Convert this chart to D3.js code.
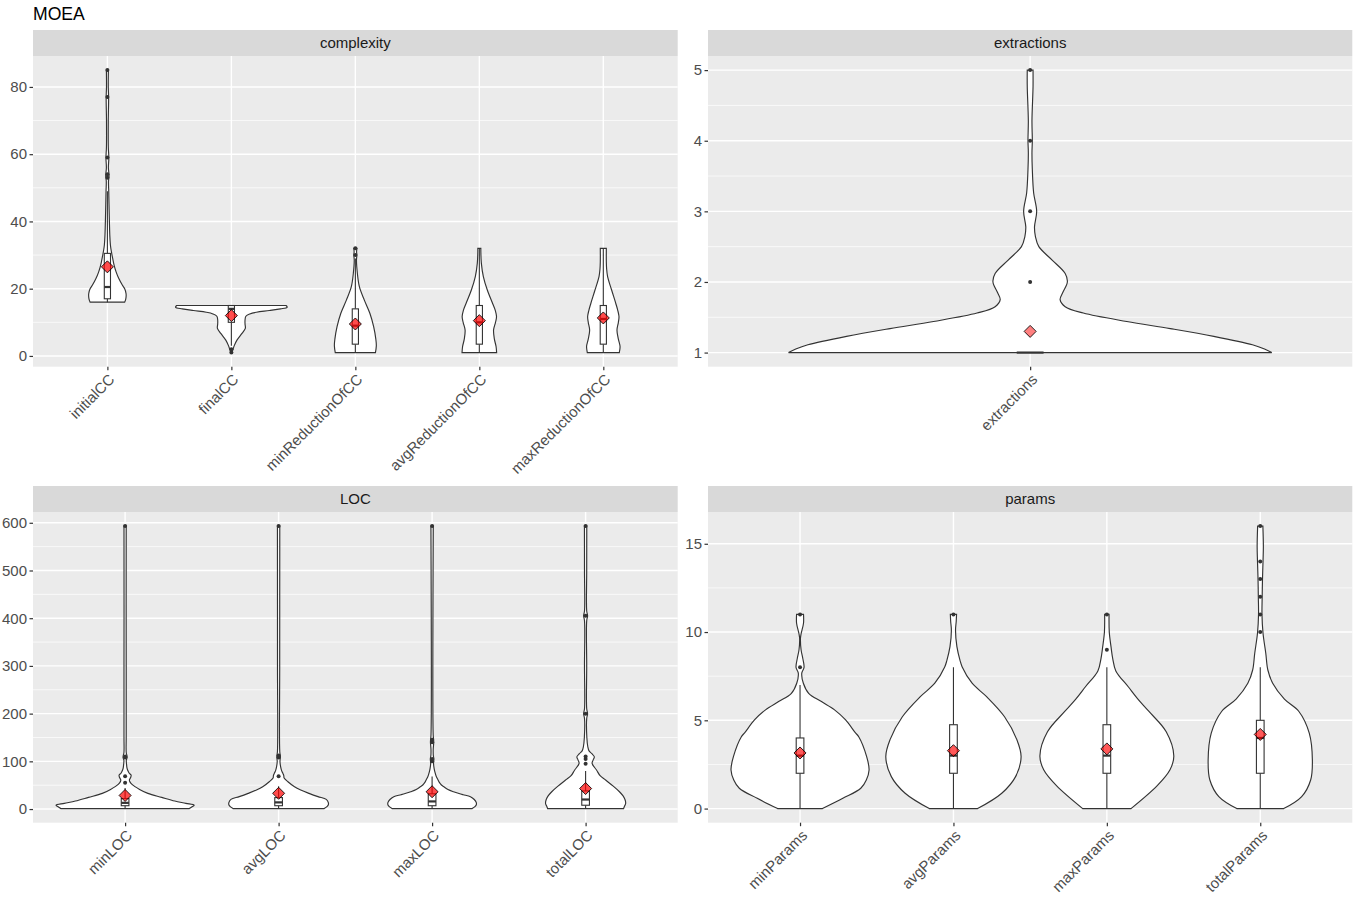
<!DOCTYPE html>
<html><head><meta charset="utf-8">
<script src="https://cdn.jsdelivr.net/npm/d3@7"></script>
<style>
body{margin:0;background:#fff}
text{font-family:"Liberation Sans", Arial, Helvetica, sans-serif}
</style>
</head><body>
<svg id="chart" width="1359" height="898"></svg>
<script>
// ---------------- DATA ----------------
const chartTitle = "MOEA";

// complexity panel
const complexityCategories = ["initialCC","finalCC","minReductionOfCC","avgReductionOfCC","maxReductionOfCC"];
const complexityTicks = [0,20,40,60,80];
// density profiles: [value, relative density]
const complexityDensity = [
  [[16,0.31],[17,0.33],[18.5,0.335],[20,0.31],[21,0.27],[23,0.205],[25,0.156],[27,0.12],[29,0.095],[31,0.072],[33,0.054],[36,0.043],[40,0.036],[45,0.029],[49,0.024],[52,0.02],[53.5,0.03],[56,0.018],[59,0.026],[62,0.017],[70,0.016],[77,0.022],[80,0.016],[85,0.018]],
  [[1,0.01],[2,0.03],[3,0.05],[4.7,0.10],[6.7,0.19],[8.2,0.25],[9.5,0.245],[10.7,0.245],[11.8,0.26],[12.5,0.33],[13,0.45],[13.5,0.68],[14,0.88],[14.5,1.0],[15,0.98]],
  [[1,0.36],[3,0.376],[5,0.367],[8.7,0.328],[12.7,0.26],[16.6,0.161],[20.6,0.072],[24.6,0.036],[28.6,0.02],[30,0.028],[31,0.022],[32,0.028]],
  [[1,0.31],[2.8,0.30],[5,0.27],[7.7,0.255],[10,0.29],[11.7,0.308],[13.5,0.287],[15.6,0.238],[19.6,0.143],[23.6,0.072],[27.6,0.036],[31,0.027],[32,0.027]],
  [[1,0.287],[2.8,0.30],[5,0.27],[7.7,0.245],[10,0.27],[11.7,0.281],[13.5,0.26],[15.6,0.224],[19.6,0.149],[23.6,0.077],[26,0.059],[28,0.054],[32,0.054]]
];
// box stats: [lower whisker, q1, median, q3, upper whisker]
const complexityBox = [[16,17,20.5,30.5,49],[3,10,14,15,15],[1,3.5,9,14,29],[1,3.5,10,15,32],[1,3.5,11,15,32]];
const complexityOutliers = [[53,54,59,77,85],[1,2],[30,32],[],[]];
const complexityMeans = [26.5,12,9.5,10.5,11.3];

// extractions panel
const extractionsCategories = ["extractions"];
const extractionsTicks = [1,2,3,4,5];
const extractionsDensity = [
  [[1,1.0],[1.05,0.97],[1.11,0.92],[1.23,0.76],[1.34,0.58],[1.44,0.40],[1.56,0.22],[1.65,0.145],[1.75,0.124],[1.85,0.135],[2.0,0.154],[2.12,0.145],[2.31,0.091],[2.5,0.036],[2.64,0.022],[2.78,0.018],[3.0,0.027],[3.26,0.0145],[3.59,0.009],[3.83,0.0075],[4.0,0.009],[4.28,0.0075],[4.77,0.012],[5.0,0.012]]
];
const extractionsBox = [[1,1,1,1,1]];
const extractionsOutliers = [[2,3,4,5]];
const extractionsMeans = [1.3];

// LOC panel
const locCategories = ["minLOC","avgLOC","maxLOC","totalLOC"];
const locTicks = [0,100,200,300,400,500,600];
const locDensity = [
  [[1,0.93],[5,0.97],[8,1.0],[12,0.88],[16.8,0.72],[24.5,0.53],[32.9,0.33],[41.2,0.21],[51.7,0.10],[57,0.07],[61,0.062],[66,0.08],[71,0.087],[75,0.06],[79,0.045],[85,0.029],[95,0.02],[103,0.018],[108,0.03],[112,0.027],[118,0.017],[150,0.016],[300,0.016],[590,0.016],[593,0.017]],
  [[1,0.66],[5,0.70],[9,0.72],[13.3,0.72],[20.3,0.69],[26,0.57],[32.9,0.44],[40,0.32],[46.8,0.23],[57.3,0.135],[65,0.08],[70,0.075],[74.8,0.062],[80,0.045],[88.8,0.029],[100,0.02],[110,0.026],[120,0.017],[300,0.016],[593,0.017]],
  [[1,0.58],[5,0.62],[9,0.64],[13.3,0.64],[20,0.61],[25.9,0.555],[30,0.45],[32.5,0.39],[36.3,0.31],[41,0.23],[46.8,0.17],[50.4,0.135],[57,0.1],[60,0.09],[67.8,0.062],[78,0.04],[85.4,0.029],[95,0.021],[100,0.023],[105,0.026],[112,0.018],[125,0.016],[140,0.024],[145,0.022],[155,0.016],[593,0.017]],
  [[1,0.55],[5,0.56],[11.7,0.58],[20,0.57],[28,0.54],[36.3,0.49],[48,0.40],[60.8,0.29],[70,0.21],[81.8,0.158],[95.8,0.094],[103,0.11],[109.6,0.126],[116,0.09],[122,0.05],[130.6,0.032],[150,0.018],[190,0.016],[200,0.029],[210,0.016],[300,0.016],[395,0.016],[405,0.029],[415,0.016],[500,0.016],[593,0.017]]
];
const locBox = [[1,7,13,22,44],[1,7,14,24,48],[1,7,16,32,68],[1,8,20,38,80]];
const locOutliers = [[55,69,108,110,593],[69,108,112,593],[100,105,140,145,593],[95,105,110,200,405,593]];
const locMeans = [28.5,33,36.3,43];

// params panel
const paramsCategories = ["minParams","avgParams","maxParams","totalParams"];
const paramsTicks = [0,5,10,15];
const paramsDensity = [
  [[0,0.325],[0.58,0.62],[1.15,0.88],[1.62,0.96],[2.19,1.0],[2.94,0.965],[4.07,0.85],[4.3,0.80],[5.02,0.66],[5.59,0.5],[6.06,0.31],[6.53,0.125],[7.1,0.048],[7.67,0.025],[8.0,0.058],[8.5,0.04],[9.0,0.015],[9.7,0.007],[10.5,0.05],[11,0.05]],
  [[0,0.35],[0.87,0.70],[1.81,0.90],[2.94,0.98],[3.89,0.92],[5.2,0.74],[6.34,0.48],[7.1,0.27],[8.04,0.125],[8.4,0.095],[9.17,0.05],[10.1,0.03],[10.6,0.04],[11,0.045]],
  [[0,0.35],[1.3,0.73],[2.2,0.915],[2.98,0.97],[4.35,0.86],[5.5,0.61],[6.2,0.45],[6.9,0.31],[7.8,0.13],[8.5,0.085],[9.17,0.06],[10,0.035],[11,0.032]],
  [[0,0.34],[0.68,0.60],[1.62,0.73],[2.75,0.755],[4.27,0.71],[5.5,0.56],[6.2,0.35],[7.1,0.18],[7.85,0.11],[8.8,0.08],[9.93,0.04],[11,0.025],[12,0.028],[12.95,0.032],[14,0.04],[14.84,0.045],[16,0.038]]
];
const paramsBox = [[0,2,3,4,7],[0,2,3,4.75,8],[0,2,3,4.75,8],[0,2,4,5,8]];
const paramsOutliers = [[8,11],[11],[9,11],[10,11,12,13,14,16]];
const paramsMeans = [3.15,3.28,3.38,4.2];

// ---------------- LAYOUT / STYLE ----------------
const svg = d3.select("#chart");
const cols = [[33,677.7],[708,1352.3]];
const rows = [{s0:30,s1:56,p0:56,p1:366.7},{s0:486,s1:512,p0:512,p1:822.7}];
const TICK = 3.5, PAD = 2.5, AXFS = 15;

const panels = [
  {name:"complexity", cats:complexityCategories, ticks:complexityTicks, density:complexityDensity, box:complexityBox, outliers:complexityOutliers, means:complexityMeans, col:0,row:0, meanOp:0.7},
  {name:"extractions", cats:extractionsCategories, ticks:extractionsTicks, density:extractionsDensity, box:extractionsBox, outliers:extractionsOutliers, means:extractionsMeans, col:1,row:0, meanOp:0.5},
  {name:"LOC", cats:locCategories, ticks:locTicks, density:locDensity, box:locBox, outliers:locOutliers, means:locMeans, col:0,row:1, meanOp:0.7},
  {name:"params", cats:paramsCategories, ticks:paramsTicks, density:paramsDensity, box:paramsBox, outliers:paramsOutliers, means:paramsMeans, col:1,row:1, meanOp:0.65}
];

svg.append("rect").attr("width",1359).attr("height",898).attr("fill","#fff");
svg.append("text").attr("x",33).attr("y",19.5).attr("font-size",17.6).attr("fill","#000").text(chartTitle);

panels.forEach(p => {
  const [x0,x1] = cols[p.col];
  const r = rows[p.row];
  const vals = [];
  p.density.forEach(a => a.forEach(d => vals.push(d[0])));
  p.box.forEach(b => vals.push(...b));
  p.outliers.forEach(o => vals.push(...o));
  const [mn,mx] = d3.extent(vals);
  const pad = (mx-mn)*0.05;
  const y = d3.scaleLinear().domain([mn-pad, mx+pad]).range([r.p1, r.p0]);
  const x = d3.scalePoint().domain(p.cats).range([x0,x1]).padding(0.6);
  const step = x.step();
  const w = d3.scaleLinear().domain([0,1]).range([0, 0.45*step]);
  const bw = 0.05*step;

  const g = svg.append("g");
  g.append("rect").attr("x",x0).attr("y",r.p0).attr("width",x1-x0).attr("height",r.p1-r.p0).attr("fill","#EBEBEB");
  const st = p.ticks[1]-p.ticks[0];
  const minors = [];
  for (let t = p.ticks[0]-st/2; t <= mx+pad; t += st) if (t >= mn-pad) minors.push(t);
  g.selectAll(".mi").data(minors).enter().append("line")
    .attr("x1",x0).attr("x2",x1).attr("y1",d=>y(d)).attr("y2",d=>y(d))
    .attr("stroke","#fff").attr("stroke-width",0.7);
  g.selectAll(".ma").data(p.ticks).enter().append("line")
    .attr("x1",x0).attr("x2",x1).attr("y1",d=>y(d)).attr("y2",d=>y(d))
    .attr("stroke","#fff").attr("stroke-width",1.4);
  g.selectAll(".mv").data(p.cats).enter().append("line")
    .attr("x1",d=>x(d)).attr("x2",d=>x(d)).attr("y1",r.p0).attr("y2",r.p1)
    .attr("stroke","#fff").attr("stroke-width",1.4);

  g.append("rect").attr("x",x0).attr("y",r.s0).attr("width",x1-x0).attr("height",r.s1-r.s0).attr("fill","#D9D9D9");
  g.append("text").attr("x",(x0+x1)/2).attr("y",(r.s0+r.s1)/2).attr("dy","0.36em")
    .attr("text-anchor","middle").attr("font-size",AXFS).attr("fill","#1A1A1A").text(p.name);

  const ya = g.append("g").attr("transform",`translate(${x0},0)`)
    .call(d3.axisLeft(y).tickValues(p.ticks).tickSize(TICK).tickPadding(PAD).tickFormat(d3.format("d")));
  ya.select(".domain").remove();
  ya.selectAll("line").attr("stroke","#333").attr("stroke-width",1.2);
  ya.selectAll("text").attr("font-size",AXFS).attr("fill","#4D4D4D").attr("font-family",null);

  const xa = g.append("g").attr("transform",`translate(0,${r.p1})`)
    .call(d3.axisBottom(x).tickSize(TICK).tickPadding(PAD));
  xa.select(".domain").remove();
  xa.selectAll("line").attr("stroke","#333").attr("stroke-width",1.2);
  xa.selectAll("text").attr("font-size",AXFS).attr("fill","#4D4D4D").attr("font-family",null)
    .attr("x",0).attr("y",0).attr("dy","0.72em")
    .attr("text-anchor","end")
    .attr("transform",`translate(0,${TICK+PAD}) rotate(-45)`);

  const area = d3.area().curve(d3.curveCatmullRom.alpha(0.5));

  p.cats.forEach((c,i) => {
    const cx = x(c);
    area.y(d=>y(d[0])).x0(d=>cx - w(d[1])).x1(d=>cx + w(d[1]));
    g.append("path").attr("d", area(p.density[i]))
      .attr("fill","#fff").attr("stroke","#333").attr("stroke-width",1.15);
  });
  p.cats.forEach((c,i) => {
    const cx = x(c);
    const [lo,q1,med,q3,hi] = p.box[i];
    g.append("line").attr("x1",cx).attr("x2",cx).attr("y1",y(q3)).attr("y2",y(hi)).attr("stroke","#333").attr("stroke-width",1.1);
    g.append("line").attr("x1",cx).attr("x2",cx).attr("y1",y(q1)).attr("y2",y(lo)).attr("stroke","#333").attr("stroke-width",1.1);
    g.append("rect").attr("x",cx-bw/2).attr("width",bw).attr("y",y(q3)).attr("height",Math.max(0,y(q1)-y(q3)))
      .attr("fill","#fff").attr("stroke","#333").attr("stroke-width",1.1);
    g.append("line").attr("x1",cx-bw/2).attr("x2",cx+bw/2).attr("y1",y(med)).attr("y2",y(med))
      .attr("stroke","#333").attr("stroke-width",2.2);
    g.selectAll(null).data(p.outliers[i]).enter().append("circle")
      .attr("cx",cx).attr("cy",d=>y(d)).attr("r",2).attr("fill","#333");
  });
  p.cats.forEach((c,i) => {
    const cx = x(c), cy = y(p.means[i]);
    g.append("path").attr("d", d3.symbol(d3.symbolSquare, 72)())
      .attr("transform",`translate(${cx},${cy}) rotate(45)`)
      .attr("fill","#FF0000").attr("fill-opacity",p.meanOp)
      .attr("stroke","#000").attr("stroke-width",0.8);
  });
});
</script>
</body></html>
